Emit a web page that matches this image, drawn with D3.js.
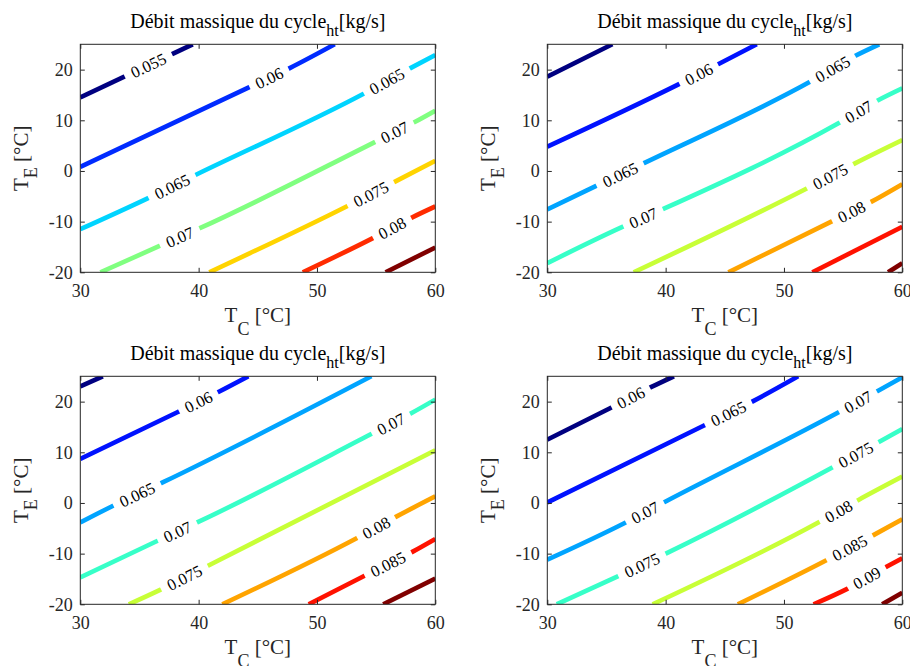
<!DOCTYPE html>
<html><head><meta charset="utf-8">
<script src="https://cdn.jsdelivr.net/npm/d3@7"></script>
<style>body{margin:0;background:#fff} svg{display:block}</style>
</head><body>
<script>
// ---------- data ----------
const titleMain = "Débit massique du cycle";
const titleSub = "ht";
const titleUnit = "[kg/s]";
const xLabelMain = "T", xLabelSub = "C", xLabelUnit = " [°C]";
const yLabelMain = "T", yLabelSub = "E", yLabelUnit = " [°C]";
const xTicks = [30, 40, 50, 60];
const yTicks = [-20, -10, 0, 10, 20];
const xDomain = [30, 60];
const yDomain = [-20, 25];

// panel 1 (top-left)
const levels1 = [0.055, 0.06, 0.065, 0.07, 0.075, 0.08, 0.085];
const lines1 = [
  [[30, 14.5], [39.5, 25]],
  [[30, 0.8], [44.2, 16.45], [47.7, 20.3], [51.5, 25]],
  [[30, -11.5], [35.6, -5.5], [39.9, -0.6], [53.9, 15.2], [57.9, 20.3], [60, 22.9]],
  [[31.7, -20], [36.7, -14.8], [40.1, -11.3], [54.8, 5.6], [58.3, 9.7], [60, 11.9]],
  [[40.9, -20], [52.5, -7.0], [56.6, -2.1], [60, 2.0]],
  [[48.8, -20], [54.6, -13.4], [58.1, -9.1], [60, -7.0]],
  [[55.8, -20], [60, -15.1]]
];
const labels1 = [[0, 35.75], [1, 45.95], [2, 37.75], [2, 55.9], [3, 38.4], [3, 56.55], [4, 54.55], [5, 56.35]];

// panel 2 (top-right)
const levels2 = [0.055, 0.06, 0.065, 0.07, 0.075, 0.08, 0.085, 0.09];
const lines2 = [
  [[30, 18.6], [35.5, 25]],
  [[30, 4.8], [41.0, 17.0], [44.6, 21.25], [47.7, 25]],
  [[30, -7.6], [34.0, -3.1], [38.3, 1.7], [52.2, 17.6], [56.0, 22.7], [58.05, 25]],
  [[30, -18.2], [36.3, -11.1], [39.9, -7.4], [54.6, 9.4], [58.0, 14.0], [60, 16.3]],
  [[37.3, -20], [51.8, -3.6], [56.0, 1.5], [60, 6.1]],
  [[45.3, -20], [54.0, -10.0], [57.4, -6.05], [60, -2.6]],
  [[52.4, -20], [60, -11.0]],
  [[58.8, -20], [60, -18.2]]
];
const labels2 = [[1, 42.8], [2, 36.15], [2, 54.1], [3, 38.1], [3, 56.3], [4, 53.9], [5, 55.7]];

// panel 3 (bottom-left)
const levels3 = [0.055, 0.06, 0.065, 0.07, 0.075, 0.08, 0.085, 0.09];
const lines3 = [
  [[30, 23.0], [31.9, 25]],
  [[30, 8.7], [38.2, 17.9], [41.75, 22.0], [44.2, 25]],
  [[30, -3.85], [32.65, -0.7], [37.0, 4.1], [54.6, 25]],
  [[30, -14.7], [36.4, -7.6], [40.06, -3.65], [54.5, 13.5], [58.0, 17.75], [60, 20.4]],
  [[34.1, -20], [36.7, -17.2], [40.96, -12.2], [60, 10.4]],
  [[42.0, -20], [53.35, -6.95], [56.7, -2.7], [60, 1.3]],
  [[49.3, -20], [53.9, -14.5], [58.1, -9.6], [60, -7.1]],
  [[55.6, -20], [60, -14.9]]
];
const labels3 = [[1, 39.98], [2, 34.8], [3, 38.2], [3, 56.25], [4, 38.8], [5, 55.0], [6, 56.0]];

// panel 4 (bottom-right)
const levels4 = [0.06, 0.065, 0.07, 0.075, 0.08, 0.085, 0.09, 0.095];
const lines4 = [
  [[30, 12.5], [35.3, 18.7], [38.8, 22.9], [40.7, 25]],
  [[30, 0.1], [43.2, 15.25], [47.4, 20.1], [51.2, 25]],
  [[30, -11.2], [36.5, -4.0], [40.0, 0.3], [54.5, 17.75], [58.0, 22.2], [60, 24.8]],
  [[30.8, -20], [35.95, -14.5], [40.1, -9.9], [54.0, 6.9], [58.1, 12.15], [60, 14.6]],
  [[38.9, -20], [52.9, -3.85], [56.3, 0.6], [60, 5.2]],
  [[46.1, -20], [53.5, -11.4], [57.6, -6.3], [60, -3.2]],
  [[52.5, -20], [55.3, -17.0], [58.7, -12.55], [60, -10.9]],
  [[58.3, -20], [60, -17.7]]
];
const labels4 = [[0, 37.05], [1, 45.3], [2, 38.25], [2, 56.25], [3, 38.0], [3, 56.05], [4, 54.6], [5, 55.55], [6, 57.0]];

// ---------- styles / layout ----------
const colors7 = ["#000080", "#002bff", "#00d4ff", "#80ff80", "#ffd400", "#ff2b00", "#800000"];
const colors8 = ["#000080", "#0012ff", "#00a4ff", "#37ffc8", "#c8ff37", "#ffa400", "#ff1200", "#800000"];

const W = 355, H = 228;
const panels = [
  {levels: levels1, lines: lines1, labels: labels1, colors: colors7, x: 80.3, y: 44.3},
  {levels: levels2, lines: lines2, labels: labels2, colors: colors8, x: 547.3, y: 44.3},
  {levels: levels3, lines: lines3, labels: labels3, colors: colors8, x: 80.3, y: 376.3},
  {levels: levels4, lines: lines4, labels: labels4, colors: colors8, x: 547.3, y: 376.3}
];

const serif = "'Liberation Serif', 'Times New Roman', serif";
const sans = "'Liberation Sans', Arial, Helvetica, sans-serif";
const axisColor = "#262626";

const svg = d3.select("body").append("svg").attr("width", 910).attr("height", 666);
const defs = svg.append("defs");

panels.forEach((p, pi) => {
  const g = svg.append("g").attr("transform", `translate(${p.x},${p.y})`);
  const x = d3.scaleLinear().domain(xDomain).range([0, W]);
  const y = d3.scaleLinear().domain(yDomain).range([H, 0]);

  defs.append("clipPath").attr("id", "clip" + pi)
    .append("rect").attr("width", W).attr("height", H);
  const mask = defs.append("mask").attr("id", "mask" + pi)
    .attr("maskUnits", "userSpaceOnUse")
    .attr("x", -20).attr("y", -20).attr("width", W + 40).attr("height", H + 40);
  mask.append("rect").attr("x", -20).attr("y", -20).attr("width", W + 40).attr("height", H + 40).attr("fill", "white");

  const line = d3.line().x(d => x(d[0])).y(d => y(d[1])).curve(d3.curveMonotoneX);
  const lg = g.append("g").attr("clip-path", `url(#clip${pi})`)
    .append("g").attr("mask", `url(#mask${pi})`);
  lg.selectAll("path").data(p.lines).join("path")
    .attr("d", line)
    .attr("fill", "none")
    .attr("stroke", (d, i) => p.colors[i])
    .attr("stroke-width", 4.6);

  // contour labels
  p.labels.forEach(([li, tc]) => {
    const pts = p.lines[li];
    let k = 0;
    for (let j = 0; j < pts.length - 1; j++) {
      if (tc >= pts[j][0] && tc <= pts[j + 1][0]) { k = j; break; }
    }
    const a = pts[k], b = pts[k + 1];
    const t = (tc - a[0]) / (b[0] - a[0]);
    const te = a[1] + t * (b[1] - a[1]);
    const px = x(tc), py = y(te);
    const ang = Math.atan2(y(b[1]) - y(a[1]), x(b[0]) - x(a[0])) * 180 / Math.PI;
    const txt = g.append("text")
      .attr("transform", `translate(${px},${py}) rotate(${ang})`)
      .attr("text-anchor", "middle")
      .attr("dy", "0.36em")
      .attr("font-family", sans)
      .attr("font-size", 16.5)
      .attr("fill", "#000")
      .text(String(p.levels[li]));
    const w = txt.node().getComputedTextLength();
    mask.append("rect")
      .attr("transform", `translate(${px},${py}) rotate(${ang})`)
      .attr("x", -w / 2 - 5.5).attr("y", -8).attr("width", w + 11).attr("height", 16)
      .attr("fill", "black");
  });

  // axes
  const fmt = d => String(d);
  const styleAxis = sel => {
    sel.select(".domain").remove();
    sel.selectAll(".tick line").attr("stroke", axisColor);
    sel.selectAll(".tick text").attr("fill", axisColor)
      .attr("font-family", serif).attr("font-size", 18);
  };
  g.append("g").attr("transform", `translate(0,${H})`)
    .call(d3.axisBottom(x).tickValues(xTicks).tickFormat(fmt).tickSizeInner(-4.5).tickSizeOuter(0).tickPadding(12))
    .call(styleAxis);
  g.append("g")
    .call(d3.axisTop(x).tickValues(xTicks).tickFormat("").tickSizeInner(-4.5).tickSizeOuter(0))
    .call(styleAxis);
  g.append("g")
    .call(d3.axisLeft(y).tickValues(yTicks).tickFormat(fmt).tickSizeInner(-4.5).tickSizeOuter(0).tickPadding(7.5))
    .call(styleAxis);
  g.append("g").attr("transform", `translate(${W},0)`)
    .call(d3.axisRight(y).tickValues(yTicks).tickFormat("").tickSizeInner(-4.5).tickSizeOuter(0))
    .call(styleAxis);
  g.selectAll("g text").attr("font-family", serif);
  g.append("rect").attr("width", W).attr("height", H)
    .attr("fill", "none").attr("stroke", axisColor).attr("stroke-width", 1);

  // title
  const tt = g.append("text").attr("x", W / 2).attr("y", -16)
    .attr("text-anchor", "middle").attr("font-family", serif).attr("font-size", 20).attr("fill", "#000");
  tt.append("tspan").text(titleMain);
  tt.append("tspan").attr("font-size", 16).attr("dy", 7.5).text(titleSub);
  tt.append("tspan").attr("dy", -7.5).text(titleUnit);

  // x label
  const xl = g.append("text").attr("x", W / 2).attr("y", H + 50)
    .attr("text-anchor", "middle").attr("font-family", serif).attr("font-size", 21).attr("fill", axisColor);
  xl.append("tspan").text(xLabelMain);
  xl.append("tspan").attr("font-size", 18).attr("dy", 13).text(xLabelSub);
  xl.append("tspan").attr("dy", -13).text(xLabelUnit);

  // y label
  const yl = g.append("text")
    .attr("transform", `translate(-52,${H / 2}) rotate(-90)`)
    .attr("text-anchor", "middle").attr("font-family", serif).attr("font-size", 21).attr("fill", axisColor);
  yl.append("tspan").text(yLabelMain);
  yl.append("tspan").attr("font-size", 18).attr("dy", 9).text(yLabelSub);
  yl.append("tspan").attr("dy", -9).text(yLabelUnit);
});
</script>
</body></html>
